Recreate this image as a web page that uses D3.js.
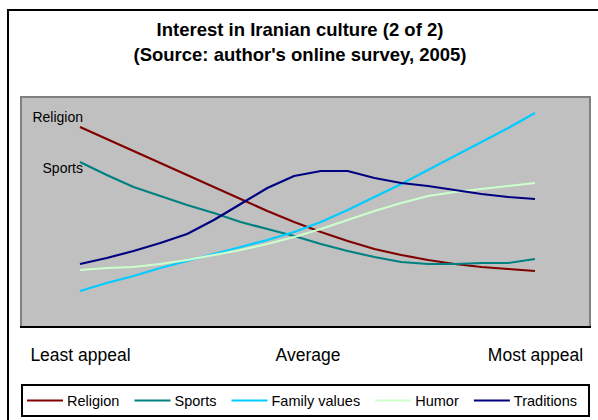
<!DOCTYPE html>
<html>
<head>
<meta charset="utf-8">
<script src="https://cdn.jsdelivr.net/npm/d3@7"></script>
<style>
  html, body { margin: 0; padding: 0; background: #fff; }
  svg { display: block; font-family: "Liberation Sans", Arial, sans-serif; }
</style>
</head>
<body>
<svg id="chart" width="598" height="420"></svg>
<script>
// 18 steps of the appeal scale, from least to most appeal
const steps = d3.range(18);
const tickLabels = [
  { step: 0, text: "Least appeal" },
  { step: 8.5, text: "Average" },
  { step: 17, text: "Most appeal" }
];

const seriesNames = ["Religion", "Sports", "Family values", "Humor", "Traditions"];
const seriesColors = ["#800000", "#008080", "#00CCFF", "#CCFFCC", "#000080"];

const religion     = [20.0, 18.8, 17.6, 16.4, 15.2, 14.0, 12.8, 11.6, 10.5, 9.5, 8.6, 7.8, 7.2, 6.7, 6.3, 6.0, 5.8, 5.6];
const sports       = [16.5, 15.2, 14.0, 13.1, 12.2, 11.4, 10.5, 9.8, 9.1, 8.3, 7.6, 7.0, 6.5, 6.3, 6.3, 6.4, 6.4, 6.8];
const familyValues = [3.6, 4.4, 5.1, 5.9, 6.6, 7.3, 8.0, 8.7, 9.5, 10.5, 11.7, 13.0, 14.3, 15.7, 17.1, 18.5, 19.9, 21.4];
const humor        = [5.7, 5.9, 6.0, 6.3, 6.7, 7.2, 7.7, 8.3, 9.0, 9.8, 10.7, 11.6, 12.4, 13.1, 13.5, 13.8, 14.1, 14.4];
const traditions   = [6.3, 6.9, 7.6, 8.4, 9.3, 10.7, 12.3, 13.9, 15.1, 15.6, 15.6, 14.9, 14.4, 14.1, 13.7, 13.3, 13.0, 12.8];

const seriesValues = [religion, sports, familyValues, humor, traditions];
// series whose names are also written beside their first point
const inlineLabels = ["Religion", "Sports"];

const svg = d3.select("#chart");

// chart frame
svg.append("rect")
  .attr("x", 8).attr("y", 10)
  .attr("width", 640).attr("height", 440)
  .attr("fill", "#fff").attr("stroke", "#000").attr("stroke-width", 2);

// title
const title = svg.append("text")
  .attr("text-anchor", "middle")
  .attr("font-weight", "bold")
  .attr("font-size", 18.5)
  .attr("fill", "#000");
title.append("tspan").attr("x", 300).attr("y", 36).text("Interest in Iranian culture (2 of 2)");
title.append("tspan").attr("x", 300).attr("y", 61).text("(Source: author's online survey, 2005)");

// plot area
const plot = { left: 21, right: 590, top: 97, bottom: 327 };

svg.append("rect")
  .attr("x", plot.left).attr("y", plot.top)
  .attr("width", plot.right - plot.left).attr("height", plot.bottom - plot.top)
  .attr("fill", "#C0C0C0").attr("stroke", "#808080").attr("stroke-width", 2);

const x = d3.scaleLinear().domain([0, 17]).range([80, 535]);
const y = d3.scaleLinear().domain([0, 23]).range([plot.bottom, plot.top]);

// category axis along the bottom of the plot
const xAxis = d3.axisBottom(x)
  .tickValues(tickLabels.map(d => d.step))
  .tickFormat((d, i) => tickLabels[i].text)
  .tickSize(0)
  .tickPadding(22);

const axisG = svg.append("g")
  .attr("transform", `translate(0,${plot.bottom})`)
  .call(xAxis);
axisG.select(".domain").remove();
axisG.selectAll("text")
  .attr("font-family", "Liberation Sans, Arial, sans-serif")
  .attr("font-size", 17.5)
  .attr("fill", "#000");

svg.append("line")
  .attr("x1", plot.left - 1).attr("x2", plot.right + 1)
  .attr("y1", plot.bottom).attr("y2", plot.bottom)
  .attr("stroke", "#000").attr("stroke-width", 2);

// series lines
const line = d3.line()
  .x((d, i) => x(steps[i]))
  .y(d => y(d));

svg.append("g")
  .selectAll("path")
  .data(seriesValues)
  .join("path")
  .attr("d", d => line(d))
  .attr("fill", "none")
  .attr("stroke", (d, i) => seriesColors[i])
  .attr("stroke-width", 2.2)
  .attr("stroke-linejoin", "round");

// names beside the starting points
svg.append("g")
  .selectAll("text")
  .data(inlineLabels)
  .join("text")
  .attr("x", d => x(steps[0]) + 3)
  .attr("y", d => y(seriesValues[seriesNames.indexOf(d)][0]) - (d === "Religion" ? 5 : -11))
  .attr("text-anchor", "end")
  .attr("font-size", 14)
  .attr("fill", "#000")
  .text(d => d);

// legend
const legend = { left: 22, right: 589, top: 385, bottom: 416 };
svg.append("rect")
  .attr("x", legend.left).attr("y", legend.top)
  .attr("width", legend.right - legend.left).attr("height", legend.bottom - legend.top)
  .attr("fill", "#fff").attr("stroke", "#000").attr("stroke-width", 2);

const legendG = svg.append("g");
const items = legendG.selectAll("g")
  .data(seriesNames)
  .join("g");
items.append("line")
  .attr("x1", 0).attr("x2", 36)
  .attr("y1", 0).attr("y2", 0)
  .attr("stroke", (d, i) => seriesColors[i])
  .attr("stroke-width", 2.2);
items.append("text")
  .attr("x", 40).attr("y", 5)
  .attr("font-size", 14.5)
  .attr("fill", "#000")
  .text(d => d);

const widths = items.nodes().map(n => 40 + d3.select(n).select("text").node().getComputedTextLength());
const totalW = d3.sum(widths);
const innerL = legend.left + 5, innerR = legend.right - 12;
const gap = (innerR - innerL - totalW) / (seriesNames.length - 1);
let cx = innerL;
items.each(function(d, i) {
  d3.select(this).attr("transform", `translate(${cx},${(legend.top + legend.bottom) / 2})`);
  cx += widths[i] + gap;
});
</script>
</body>
</html>
